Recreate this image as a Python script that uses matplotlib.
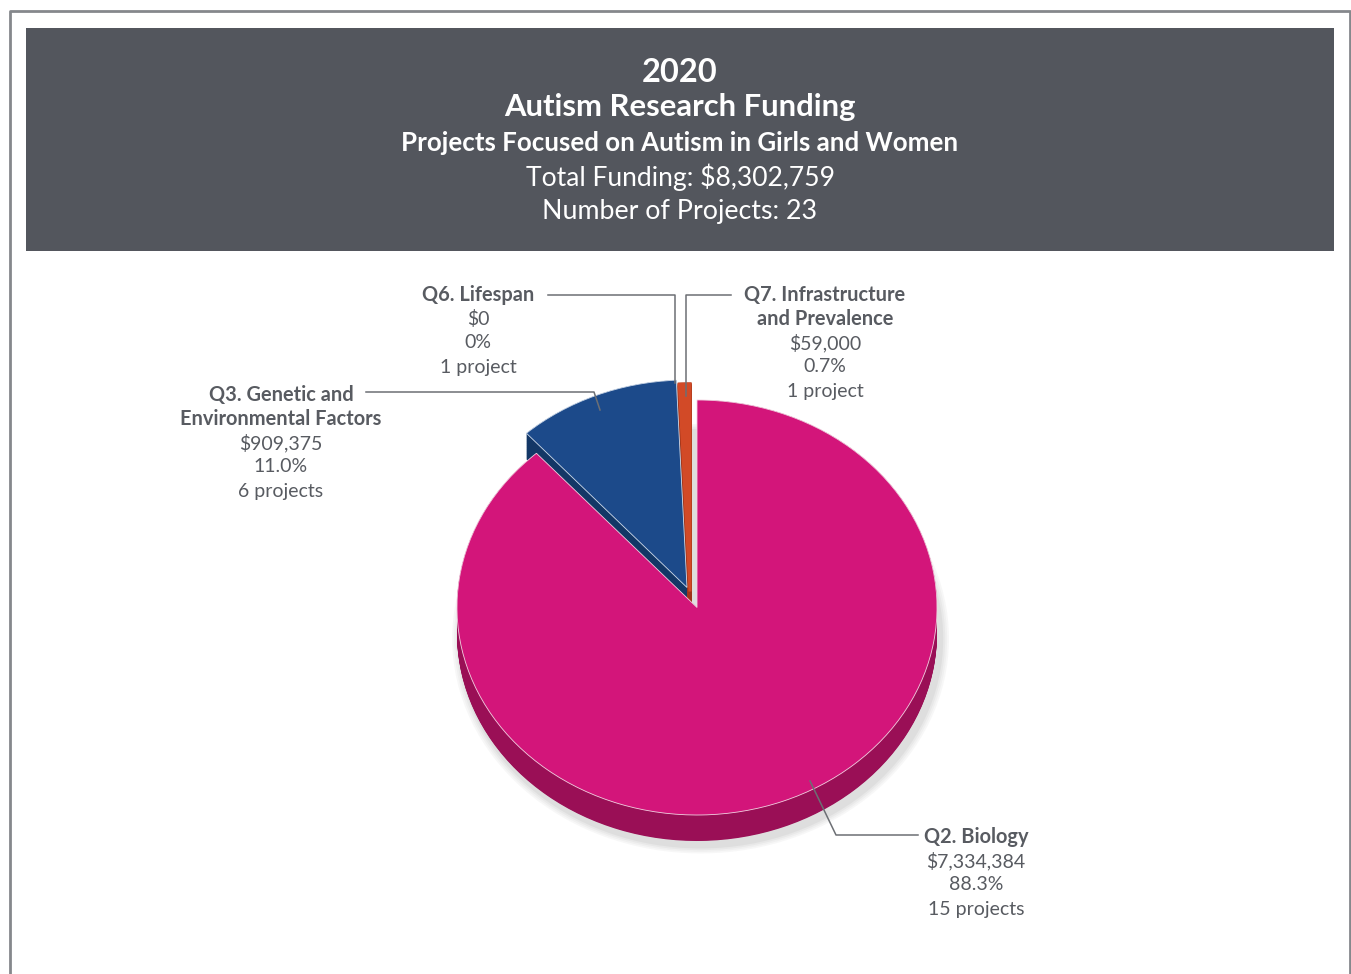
import matplotlib
matplotlib.use("Agg")
import matplotlib.pyplot as plt
from matplotlib.patches import Wedge, Rectangle, Ellipse
import numpy as np

plt.rcParams['font.family'] = ['Lato', 'DejaVu Sans']

# data
categories = ["Q2. Biology", "Q3. Genetic and\nEnvironmental Factors",
              "Q6. Lifespan", "Q7. Infrastructure\nand Prevalence"]
funding = [7334384, 909375, 0, 59000]
percent_labels = ["88.3%", "11.0%", "0%", "0.7%"]
money_labels = ["$7,334,384", "$909,375", "$0", "$59,000"]
project_labels = ["15 projects", "6 projects", "1 project", "1 project"]

title_lines = ["2020", "Autism Research Funding",
               "Projects Focused on Autism in Girls and Women",
               "Total Funding: $8,302,759", "Number of Projects: 23"]

top_colors = ["#d3157a", "#1c4a8a", "#ffffff", "#d24a27"]
side_colors = ["#9a0f56", "#133766", "#ffffff", "#9e3318"]
edge_colors = ["#f2d0e0", "#d0dcec", "#ffffff", "#d24a27"]
edge_widths = [0.6, 0.6, 0, 2.2]
# explode offsets in pixels (dx, dy down)
offsets_px = [(0, 0), (-10, -20), (0, 0), (-7, -16)]

W, H = 1351, 974
fig = plt.figure(figsize=(W / 100, H / 100), dpi=100)

bg = fig.add_axes([0, 0, 1, 1])
bg.set_xlim(0, W)
bg.set_ylim(H, 0)
bg.axis("off")

# frame and header
bg.plot([10, 10, 1349.5, 1349.5], [H, 11, 11, H], color="#85888c", lw=2)
bg.add_patch(Rectangle((26, 28), 1308, 223, color="#53565d", lw=0))

title_y = [73, 107, 143, 177, 211]
title_size = [23.5, 22.3, 18.6, 19.1, 19.3]
title_weight = ["bold", "bold", "bold", "normal", "normal"]
for txt, y, s, w in zip(title_lines, title_y, title_size, title_weight):
    bg.text(680, y, txt, color="white", fontsize=s, fontweight=w,
            ha="center", va="center")

# pie axes: unit circle -> ellipse rx=240, ry=207.5 px, centered at (697, 607.5)
cx, cy, rx, ry = 697, 607.5, 240, 207.5
lim = 1.4
ax = fig.add_axes([(cx - lim * rx) / W, (H - cy - lim * ry) / H,
                   2 * lim * rx / W, 2 * lim * ry / H])
ax.set_xlim(-lim, lim)
ax.set_ylim(-lim, lim)
ax.axis("off")
ax.patch.set_alpha(0)

depth = 26 / ry
total = sum(funding)
fracs = np.array(funding) / total
ends = np.cumsum(fracs)
starts = ends - fracs

# soft shadow under the pie
for k, a in enumerate([0.05, 0.05, 0.06, 0.08]):
    grow = 0.035 - k * 0.008
    ax.add_patch(Ellipse((0.015, -depth - 0.025), 2 + 2 * grow, 2 + 2 * grow,
                         color="#707070", alpha=a, lw=0, zorder=0))

wedges = []
for i in range(len(funding)):
    if funding[i] == 0:
        continue
    t1 = 90 - ends[i] * 360
    t2 = 90 - starts[i] * 360
    ox = offsets_px[i][0] / rx
    oy = -offsets_px[i][1] / ry
    wedges.append((t1, t2, ox, oy, i))

# sides
for t1, t2, ox, oy, i in wedges:
    for dz in np.linspace(-depth, 0, 40):
        ax.add_patch(Wedge((ox, oy + dz), 1, t1, t2, facecolor=side_colors[i],
                           edgecolor=side_colors[i], lw=edge_widths[i] if i == 3 else 0,
                           zorder=1))
# tops
for t1, t2, ox, oy, i in wedges:
    ax.add_patch(Wedge((ox, oy), 1, t1, t2, facecolor=top_colors[i],
                       edgecolor=edge_colors[i], lw=edge_widths[i], zorder=2))

# labels and leader lines
ov = fig.add_axes([0, 0, 1, 1])
ov.set_xlim(0, W)
ov.set_ylim(H, 0)
ov.axis("off")
ov.patch.set_alpha(0)

lc = "#6c6f74"
leaders = {
    0: ([810, 836, 918], [781, 835, 835]),
    1: ([366, 594, 600], [392, 392, 410]),
    2: ([548, 675, 675], [295, 295, 383]),
    3: ([731, 686, 686], [295, 295, 396]),
}
for i, (xs, ys) in leaders.items():
    ov.plot(xs, ys, color=lc, lw=1.1, zorder=5)

label_pos = {0: (976, 837), 1: (281, 395), 2: (478, 295), 3: (825, 295)}
tc = "#585b61"
step = 24
for i in range(len(categories)):
    x, y = label_pos[i]
    lines = categories[i].split("\n")
    for j, ln in enumerate(lines):
        ov.text(x, y + j * step, ln, color=tc, fontsize=14.4, fontweight="bold",
                ha="center", va="center")
    rest = [money_labels[i], percent_labels[i], project_labels[i]]
    for j, ln in enumerate(rest):
        ov.text(x, y + (len(lines) + j) * step, ln, color=tc, fontsize=14,
                ha="center", va="center")

fig.savefig("out.png", dpi=100, facecolor="white")
